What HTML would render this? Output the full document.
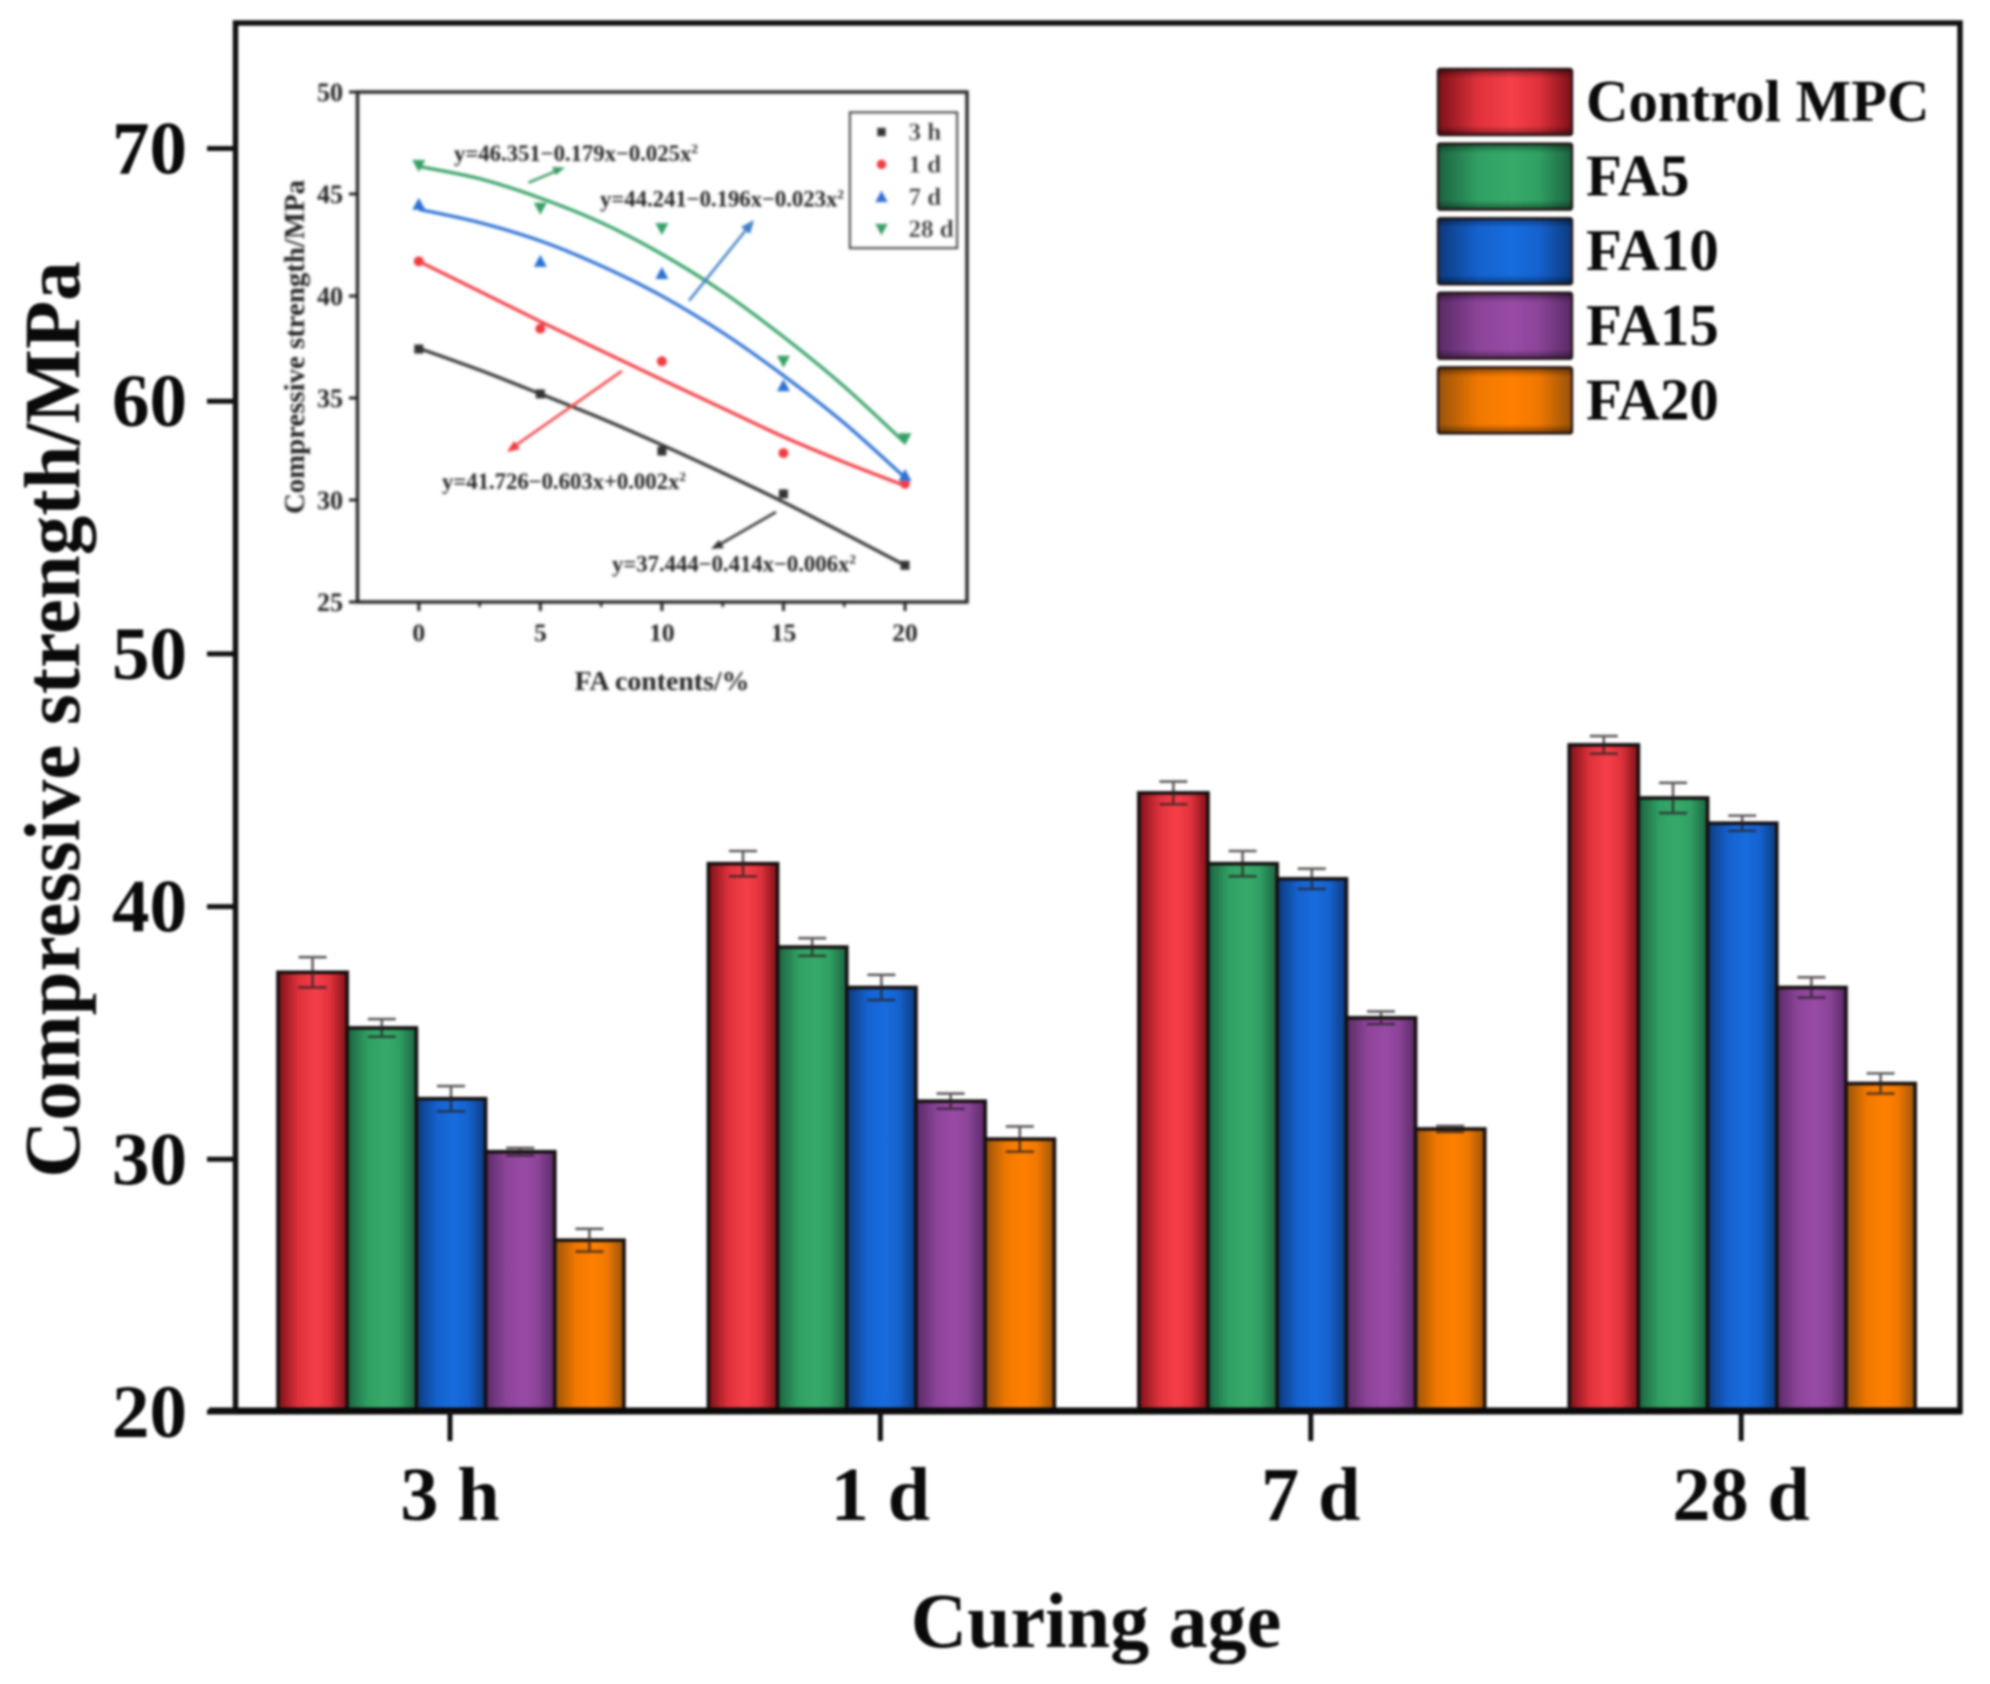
<!DOCTYPE html>
<html lang="en">
<head>
<meta charset="utf-8">
<title>Compressive strength by curing age</title>
<style>
html,body{margin:0;padding:0;background:#fff;}
#chart{display:block;width:1990px;height:1684px;filter:blur(1.3px);font-family:"Liberation Serif",serif;font-weight:bold;}
</style>
</head>
<body>
<svg id="chart" xmlns="http://www.w3.org/2000/svg" width="1990" height="1684" viewBox="0 0 1990 1684">
  <defs>
    <linearGradient id="grad-0" x1="0" x2="1" y1="0" y2="0"><stop offset="0" stop-color="#7e1018"/><stop offset=".3" stop-color="#e0323c"/><stop offset=".55" stop-color="#f63f48"/><stop offset=".75" stop-color="#e0323c"/><stop offset="1" stop-color="#7e1018"/></linearGradient>
    <linearGradient id="grad-1" x1="0" x2="1" y1="0" y2="0"><stop offset="0" stop-color="#1c6240"/><stop offset=".3" stop-color="#30a063"/><stop offset=".55" stop-color="#37aa6a"/><stop offset=".75" stop-color="#30a063"/><stop offset="1" stop-color="#1c6240"/></linearGradient>
    <linearGradient id="grad-2" x1="0" x2="1" y1="0" y2="0"><stop offset="0" stop-color="#0c3a7c"/><stop offset=".3" stop-color="#1562cf"/><stop offset=".55" stop-color="#176cde"/><stop offset=".75" stop-color="#1562cf"/><stop offset="1" stop-color="#0c3a7c"/></linearGradient>
    <linearGradient id="grad-3" x1="0" x2="1" y1="0" y2="0"><stop offset="0" stop-color="#592a66"/><stop offset=".3" stop-color="#8c4499"/><stop offset=".55" stop-color="#984ba6"/><stop offset=".75" stop-color="#8c4499"/><stop offset="1" stop-color="#592a66"/></linearGradient>
    <linearGradient id="grad-4" x1="0" x2="1" y1="0" y2="0"><stop offset="0" stop-color="#99530a"/><stop offset=".3" stop-color="#f07800"/><stop offset=".55" stop-color="#ff8000"/><stop offset=".75" stop-color="#f07800"/><stop offset="1" stop-color="#99530a"/></linearGradient>
    <linearGradient id="swatch-shade" x1="0" x2="0" y1="0" y2="1"><stop offset="0" stop-color="#000" stop-opacity=".45"/><stop offset=".14" stop-color="#000" stop-opacity="0"/><stop offset=".86" stop-color="#000" stop-opacity="0"/><stop offset="1" stop-color="#000" stop-opacity=".45"/></linearGradient>
    <filter id="inset-blur" x="200" y="60" width="800" height="660" filterUnits="userSpaceOnUse"><feGaussianBlur stdDeviation="0.8"/></filter>
  </defs>

  <g id="bars"></g>
  <g id="errors"></g>

  <rect x="235.5" y="23" width="1724.5" height="1388" fill="none" stroke="#111" stroke-width="5.5"/>
  <line x1="209" x2="1962" y1="1411" y2="1411" stroke="#0a0a0a" stroke-width="7"/>
  <g id="y-axis"></g>
  <g id="x-axis"></g>

  <text x="79" y="719.5" transform="rotate(-90 79 719.5)" text-anchor="middle" font-size="79" fill="#0a0a0a">Compressive strength/MPa</text>
  <text x="1096" y="1647" text-anchor="middle" font-size="78" fill="#0a0a0a">Curing age</text>

  <g id="legend"></g>

  <g id="inset" filter="url(#inset-blur)">
    <g id="inset-axes"></g>
    <g id="inset-series"></g>
    <rect x="357.5" y="92" width="609.5" height="510" fill="none" stroke="#222" stroke-width="3.4"/>

    <text x="304" y="347" transform="rotate(-90 304 347)" text-anchor="middle" font-size="28.8" fill="#222">Compressive strength/MPa</text>
    <text x="662" y="690" text-anchor="middle" font-size="27.8" fill="#222">FA contents/%</text>

    <text x="454" y="161" font-size="22.7" fill="#222">y=46.351−0.179x−0.025x<tspan dy="-8" font-size="13">2</tspan></text>
    <text x="600" y="206.5" font-size="22.7" fill="#222">y=44.241−0.196x−0.023x<tspan dy="-8" font-size="13">2</tspan></text>
    <text x="442" y="489" font-size="22.7" fill="#222">y=41.726−0.603x+0.002x<tspan dy="-8" font-size="13">2</tspan></text>
    <text x="612" y="571.5" font-size="22.7" fill="#222">y=37.444−0.414x−0.006x<tspan dy="-8" font-size="13">2</tspan></text>

    <g stroke="#3a9a64" fill="#3a9a64">
      <line x1="528.5" y1="182.7" x2="560" y2="169.5" stroke-width="2.5"/>
      <polygon points="565,167.5 552,167 556,175" stroke="none"/>
    </g>
    <g stroke="#3f7fc4" fill="#3f7fc4">
      <line x1="689" y1="300.7" x2="750" y2="225" stroke-width="2.5"/>
      <polygon points="754,220 741,227 750,234" stroke="none"/>
    </g>
    <g stroke="#ee3a40" fill="#ee3a40">
      <line x1="622" y1="371" x2="512" y2="448" stroke-width="2.5"/>
      <polygon points="507,452 520,449 514,441" stroke="none"/>
    </g>
    <g stroke="#333" fill="#333">
      <line x1="776" y1="512" x2="717" y2="546" stroke-width="2.5"/>
      <polygon points="711,549 724,548 719,540" stroke="none"/>
    </g>

    <g id="inset-legend">
      <rect x="850" y="112.5" width="107" height="135.5" fill="#fff" stroke="#333" stroke-width="2.2"/>
    </g>
  </g>
</svg>

<script>
// ---- Main chart data ----
const ages = ['3 h', '1 d', '7 d', '28 d'];
const seriesNames = ['Control MPC', 'FA5', 'FA10', 'FA15', 'FA20'];
const controlValues = [37.4, 41.7, 44.5, 46.4];
const fa5Values = [35.2, 38.4, 41.7, 44.3];
const fa10Values = [32.4, 36.8, 41.1, 43.3];
const fa15Values = [30.3, 32.3, 35.6, 36.8];
const fa20Values = [26.8, 30.8, 31.2, 33.0];
const controlErrors = [0.6, 0.5, 0.45, 0.35];
const fa5Errors = [0.35, 0.35, 0.5, 0.6];
const fa10Errors = [0.5, 0.5, 0.4, 0.3];
const fa15Errors = [0.15, 0.3, 0.25, 0.4];
const fa20Errors = [0.45, 0.5, 0.12, 0.4];
const yTickLabels = [20, 30, 40, 50, 60, 70];

// ---- Inset chart data ----
const faContents = [0, 5, 10, 15, 20];
const fitContents = [0, 2.5, 5, 7.5, 10, 12.5, 15, 17.5, 20];
const insetNames = ['3 h', '1 d', '7 d', '28 d'];
const points3h = [37.4, 35.2, 32.4, 30.3, 26.8];
const points1d = [41.7, 38.4, 36.8, 32.3, 30.8];
const points7d = [44.5, 41.7, 41.1, 35.6, 31.2];
const points28d = [46.4, 44.3, 43.3, 36.8, 33.0];
const fit3h = [37.44, 36.37, 35.2, 34.0, 32.7, 31.33, 29.9, 28.36, 26.8];
const fit1d = [41.7, 40.23, 38.75, 37.32, 35.9, 34.5, 33.1, 31.85, 30.7];
const fit7d = [44.25, 43.6, 42.7, 41.48, 40.0, 38.2, 36.1, 33.77, 31.1];
const fit28d = [46.35, 45.75, 44.8, 43.6, 42.05, 40.2, 38.0, 35.56, 32.8];
const insetYTicks = [25, 30, 35, 40, 45, 50];
const insetXTicks = [0, 5, 10, 15, 20];

const NS = 'http://www.w3.org/2000/svg';
const seriesValues = [controlValues, fa5Values, fa10Values, fa15Values, fa20Values];
const seriesErrors = [controlErrors, fa5Errors, fa10Errors, fa15Errors, fa20Errors];
const insetPoints = [points3h, points1d, points7d, points28d];
const insetFits = [fit3h, fit1d, fit7d, fit28d];
const insetColors = ['#333333', '#f03a42', '#2a70d4', '#35a066'];

function el(tag, attrs, parent) {
  const node = document.createElementNS(NS, tag);
  for (const k in attrs) node.setAttribute(k, attrs[k]);
  parent.appendChild(node);
  return node;
}

// Axis functions
const yScale = v => 1412 - (v - 20) * 25.27;
const groupCenter = i => 451 + 430.4 * i;
const BAR_W = 69.2;
const barX = (g, s) => groupCenter(g) + (s - 2.5) * BAR_W;
const insetX = v => 418.8 + v * 24.31;
const insetY = v => 602 - (v - 25) * 20.4;

// Bars + error bars
const barsG = document.getElementById('bars');
const errG = document.getElementById('errors');
seriesValues.forEach((vals, s) => {
  vals.forEach((v, g) => {
    const x = barX(g, s);
    const top = yScale(v);
    const bar = el('rect', {x: x, y: top, width: BAR_W, height: 1411 - top, fill: 'url(#grad-' + s + ')', stroke: '#150f0f', 'stroke-width': 3.6}, barsG);
    
    

    const e = seriesErrors[s][g];
    const cx = x + BAR_W / 2;
    const hi = yScale(v + e);
    const lo = yScale(v - e);
    const eb = el('path', {d: 'M' + (cx - 14) + ' ' + hi + 'H' + (cx + 14) + 'M' + cx + ' ' + hi + 'V' + lo + 'M' + (cx - 14) + ' ' + lo + 'H' + (cx + 14), fill: 'none', stroke: '#2a2226', 'stroke-width': 2.6, 'stroke-opacity': .75}, errG);
    
    
  });
});

// Y axis
const yAxis = document.getElementById('y-axis');
yTickLabels.forEach(t => {
  const y = yScale(t);
  const tick = el('line', {x1: 207, x2: 236, y1: y, y2: y, stroke: '#111', 'stroke-width': 5}, yAxis);
  
  
  const label = el('text', {x: 187, y: y + 25, 'text-anchor': 'end', 'font-size': 75, fill: '#0a0a0a'}, yAxis);
  label.textContent = t;
  
  
});

// X axis
const xAxis = document.getElementById('x-axis');
ages.forEach((a, i) => {
  const x = groupCenter(i) - 1;
  const tick = el('line', {x1: x, x2: x, y1: 1411, y2: 1441, stroke: '#111', 'stroke-width': 5}, xAxis);
  
  
  const label = el('text', {x: x, y: 1520, 'text-anchor': 'middle', 'font-size': 76, fill: '#0a0a0a'}, xAxis);
  label.textContent = a;
  
  
});

// Legend
const legend = document.getElementById('legend');
seriesNames.forEach((n, i) => {
  const y = 69 + 74.6 * i;
  const swatch = el('rect', {x: 1438, y: y, width: 134, height: 66, fill: 'url(#grad-' + i + ')', stroke: '#2a1a1a', 'stroke-width': 2.5, rx: 2}, legend);
  
  
  const shade = el('rect', {x: 1438, y: y, width: 134, height: 66, fill: 'url(#swatch-shade)', rx: 2}, legend);
  
  
  const label = el('text', {x: 1586, y: 121 + 74.6 * i, 'font-size': 58.8, fill: '#0a0a0a'}, legend);
  label.textContent = n;
  
  
});

// Inset axes
const insetAxes = document.getElementById('inset-axes');
insetYTicks.forEach(t => {
  const y = insetY(t);
  const tick = el('line', {x1: 349, x2: 358, y1: y, y2: y, stroke: '#222', 'stroke-width': 3}, insetAxes);
  
  
  const label = el('text', {x: 343, y: y + 9, 'text-anchor': 'end', 'font-size': 26, fill: '#222'}, insetAxes);
  label.textContent = t;
  
  
});
insetXTicks.forEach(t => {
  const x = insetX(t);
  const tick = el('line', {x1: x, x2: x, y1: 602, y2: 611, stroke: '#222', 'stroke-width': 3}, insetAxes);
  
  
  const label = el('text', {x: x, y: 641, 'text-anchor': 'middle', 'font-size': 25.5, fill: '#222'}, insetAxes);
  label.textContent = t;
  
  
  if (t < 20) {
    const mx = insetX(t + 2.5);
    const minor = el('line', {x1: mx, x2: mx, y1: 602, y2: 607, stroke: '#222', 'stroke-width': 2.5}, insetAxes);
    
    
  }
});

// Smooth path through fit samples
function smoothPath(pts) {
  let d = 'M' + pts[0][0] + ' ' + pts[0][1];
  for (let i = 0; i < pts.length - 1; i++) {
    const p0 = pts[Math.max(i - 1, 0)], p1 = pts[i], p2 = pts[i + 1], p3 = pts[Math.min(i + 2, pts.length - 1)];
    d += 'C' + (p1[0] + (p2[0] - p0[0]) / 6) + ' ' + (p1[1] + (p2[1] - p0[1]) / 6) + ' ' +
         (p2[0] - (p3[0] - p1[0]) / 6) + ' ' + (p2[1] - (p3[1] - p1[1]) / 6) + ' ' + p2[0] + ' ' + p2[1];
  }
  return d;
}

function marker(kind, x, y, color, parent) {
  if (kind === 0) return el('rect', {x: x - 4.5, y: y - 4.5, width: 9, height: 9, fill: color}, parent);
  if (kind === 1) return el('circle', {cx: x, cy: y, r: 5, fill: color}, parent);
  if (kind === 2) return el('polygon', {points: (x - 6.5) + ',' + (y + 5.5) + ' ' + (x + 6.5) + ',' + (y + 5.5) + ' ' + x + ',' + (y - 6.5), fill: color}, parent);
  return el('polygon', {points: (x - 6.5) + ',' + (y - 5.5) + ' ' + (x + 6.5) + ',' + (y - 5.5) + ' ' + x + ',' + (y + 6.5), fill: color}, parent);
}

// Inset series
const insetSeries = document.getElementById('inset-series');
insetNames.forEach((n, s) => {
  const line = el('path', {d: smoothPath(fitContents.map((c, i) => [insetX(c), insetY(insetFits[s][i])])), fill: 'none', stroke: insetColors[s], 'stroke-width': 3.2}, insetSeries);
  
  
  faContents.forEach((c, i) => {
    const m = marker(s, insetX(c), insetY(insetPoints[s][i]), insetColors[s], insetSeries);
    
    
  });
});

// Inset legend
const insetLegend = document.getElementById('inset-legend');
insetNames.forEach((n, i) => {
  const y = 132 + 32.4 * i;
  const m = marker(i, 881.5, y, insetColors[i], insetLegend);
  
  
  const label = el('text', {x: 908.5, y: y + 8, 'font-size': 25, fill: '#222'}, insetLegend);
  label.textContent = n;
  
  
});
</script>
</body>
</html>
